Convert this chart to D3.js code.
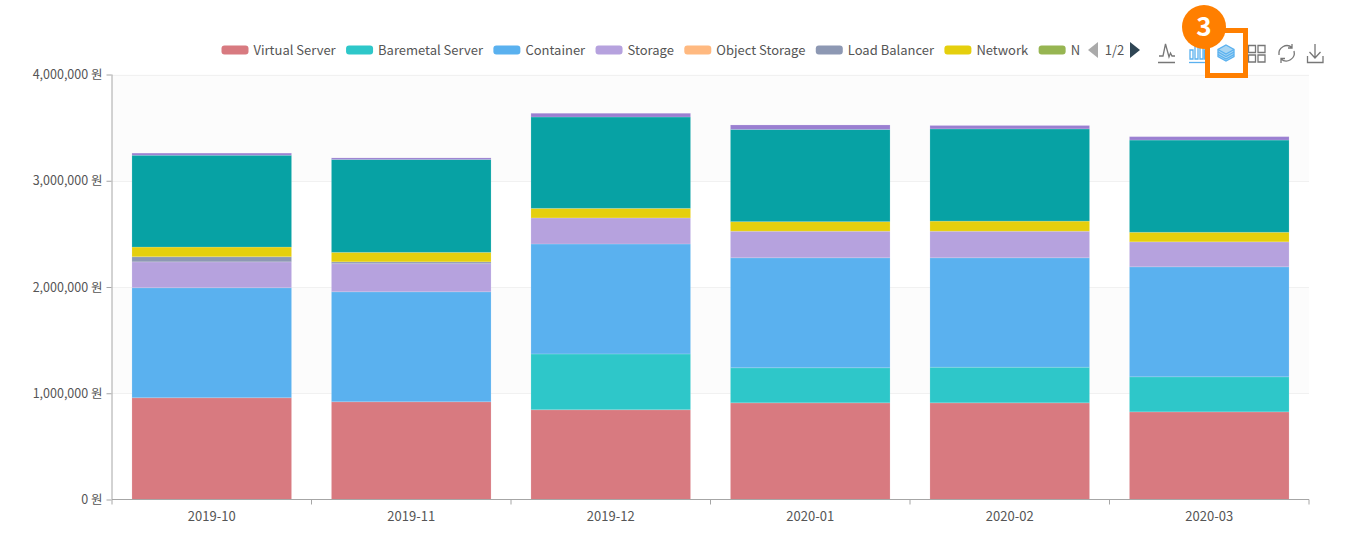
<!DOCTYPE html>
<html><head><meta charset="utf-8">
<script src="https://cdnjs.cloudflare.com/ajax/libs/d3/7.8.5/d3.min.js"></script>
<style>
html,body{margin:0;padding:0;background:#fff}
svg{display:block;font-family:"Noto Sans CJK KR","Noto Sans",sans-serif}
</style></head><body>
<svg id="c" width="1362" height="546"></svg>
<script>
// ---- data (won)
const months = ["2019-10","2019-11","2019-12","2020-01","2020-02","2020-03"];
const legendNames = ["Virtual Server","Baremetal Server","Container","Storage","Object Storage","Load Balancer","Network","N"];
const yTicks = [0,1000000,2000000,3000000,4000000];
const virtualServer = [958000,920000,845000,910000,910000,825000];
const baremetal     = [0,0,525000,330000,335000,330000];
const container     = [1035000,1035000,1035000,1035000,1030000,1035000];
const storage       = [244000,265000,245000,250000,250000,235000];
const objectStorage = [0,0,0,0,0,0];
const loadBalancer  = [48000,17000,0,0,0,0];
const network       = [91000,89000,90000,90000,95000,90000];
const pageTwoTeal   = [864000,874000,860000,868000,868000,868000];
const pageTwoPurple = [20000,15000,35000,42000,32000,32000];
const seriesValues = [virtualServer,baremetal,container,storage,objectStorage,loadBalancer,network,pageTwoTeal,pageTwoPurple];
const seriesColors = ["#d87a80","#2ec7c9","#5ab1ef","#b6a2de","#ffb980","#8d98b3","#e5cf0d","#07a2a4","#9a7fd1"];
const legendColors = ["#d87a80","#2ec7c9","#5ab1ef","#b6a2de","#ffb980","#8d98b3","#e5cf0d","#97b552"];

const svg = d3.select("#c");
const L=112,R=1309,T=74.5,B=499.5;
const x = d3.scaleBand().domain(months).range([L,R]).paddingInner(0.2).paddingOuter(0.1);
const xOuter = d3.scaleBand().domain(months).range([L,R]);
const y = d3.scaleLinear().domain([0,4000000]).range([B,T]);
const fmt = d3.format(",");
const textCol="#555555", axisCol="#a6a6a6";

// split areas
const g = svg.append("g");
g.selectAll("rect.band").data(d3.pairs(yTicks)).join("rect").attr("class","band")
 .attr("x",L).attr("width",R-L).attr("y",d=>y(d[1])).attr("height",d=>y(d[0])-y(d[1]))
 .attr("fill",(d,i)=>i%2?"#fcfcfc":"#ffffff");
// grid
g.selectAll("line.grid").data(yTicks.slice(1)).join("line").attr("class","grid")
 .attr("x1",L).attr("x2",R).attr("y1",d=>Math.round(y(d))+.5).attr("y2",d=>Math.round(y(d))+.5)
 .attr("stroke","#f1f1f1");

// stacked bars
const stackKeys = d3.range(seriesValues.length);
const rows = months.map((m,i)=>{const o={m};stackKeys.forEach(k=>o[k]=seriesValues[k][i]);return o;});
const stacked = d3.stack().keys(stackKeys)(rows);
svg.append("g").selectAll("g").data(stacked).join("g")
 .attr("fill",(d,i)=>seriesColors[i])
 .selectAll("rect").data(d=>d.filter(p=>p[1]>p[0])).join("rect")
 .attr("x",d=>x(d.data.m)).attr("width",x.bandwidth())
 .attr("y",d=>y(d[1])).attr("height",d=>y(d[0])-y(d[1]))
 .attr("stroke","rgba(255,255,255,0.15)").attr("stroke-width",1);

// axes
const ay = svg.append("g").attr("transform",`translate(${L-.5},0)`)
 .call(d3.axisLeft(y).tickValues(yTicks).tickSize(5).tickPadding(4).tickFormat(d=>fmt(d)+" 원"));
const ax = svg.append("g").attr("transform",`translate(0,${B})`)
 .call(d3.axisBottom(xOuter).tickSize(0).tickPadding(12));
ax.selectAll(".tick text").attr("dy","0.71em");
// band-boundary ticks on the x axis
ax.selectAll("line.bt").data(d3.range(months.length+1)).join("line").attr("class","bt")
 .attr("x1",i=>L+i*xOuter.step()).attr("x2",i=>L+i*xOuter.step()).attr("y1",0).attr("y2",5)
 .attr("stroke",axisCol);
[ay,ax].forEach(a=>{
 a.selectAll("path.domain,line").attr("stroke",axisCol);
 a.selectAll("text").attr("fill",textCol).style("font-family",'"Noto Sans CJK KR"');
});
ay.selectAll("text").style("font-size","12.5px");
ax.selectAll("text").style("font-size","13px");
ay.select("path.domain").attr("d",`M0.5,${T}V${B}`);
ax.select("path.domain").attr("d",`M${L},0H${R}`);

// legend, flowing left to right
let lx = 221.5;
const lg = svg.append("g");
legendNames.forEach((n,i)=>{
 lg.append("rect").attr("x",lx).attr("y",45.5).attr("width",27).attr("height",9).attr("rx",3)
   .attr("fill",legendColors[i]);
 const t = lg.append("text").attr("x",lx+32).attr("y",50).attr("dy","0.35em").text(n)
   .attr("fill",textCol).style("font-size","13px");
 lx += 32 + t.node().getComputedTextLength() + 10.4;
});

// pager
const pg = svg.append("g");
pg.append("path").attr("d","M1098,42L1088,50L1098,58Z").attr("fill","#aaaaaa");
pg.append("text").attr("x",1114.5).attr("y",50).attr("dy","0.35em").attr("text-anchor","middle").text("1/2")
  .attr("fill",textCol).style("font-size","13px");
pg.append("path").attr("d","M1130,42L1140,50L1130,58Z").attr("fill","#2f4554");

// toolbox icons
const tb = svg.append("g").attr("fill","none").attr("stroke","#777").attr("stroke-width",1.3);
tb.append("path").attr("d","M1158,62.5H1175M1159,56H1163L1165.5,44L1169,57L1170.5,53L1172,56H1175");
const tbb = tb.append("g").attr("stroke","#5ab1ef");
tbb.append("path").attr("d","M1189,62.5H1206");
tbb.append("path").attr("d","M1190,50h3v9h-3zM1195,46h3v13h-3zM1200,46h3v13h-3zM1204.5,50h2v9h-2z");
const st = tb.append("g").attr("stroke","#5ab1ef");
st.append("path").attr("fill","#a9d6f3").attr("d","M1226,45L1234,49.5V56.5L1226,61L1218,56.5V49.5Z");
st.append("path").attr("d","M1218,49.5L1226,54L1234,49.5M1218,52L1226,56.5L1234,52M1218,54.5L1226,59L1234,54.5");
tb.append("path").attr("d","M1248.5,45.5h7v7h-7zM1258,45.5h7v7h-7zM1248.5,55h7v7h-7zM1258,55h7v7h-7z");
tb.append("path").attr("d","M1279,55A8,8 0 0 1 1292,47.5M1294,51A8,8 0 0 1 1281,59M1292,44V48H1288M1281,63V58.5H1285");
tb.append("path").attr("d","M1307.5,56V62.5H1323V56M1315,44V58M1309.5,52L1315,58L1320.5,52");

// callout
const co = svg.append("g");
co.append("rect").attr("x",1207.5).attr("y",30.5).attr("width",38).attr("height",45)
  .attr("fill","none").attr("stroke","#ff7f00").attr("stroke-width",5);
co.append("circle").attr("cx",1204).attr("cy",27).attr("r",22).attr("fill","#ff7f00");
co.append("text").attr("x",1204).attr("y",27).attr("dy","0.36em").attr("text-anchor","middle").text("3")
  .attr("fill","#fff").style("font-size","26px").style("font-weight","700");
</script>
</body></html>
